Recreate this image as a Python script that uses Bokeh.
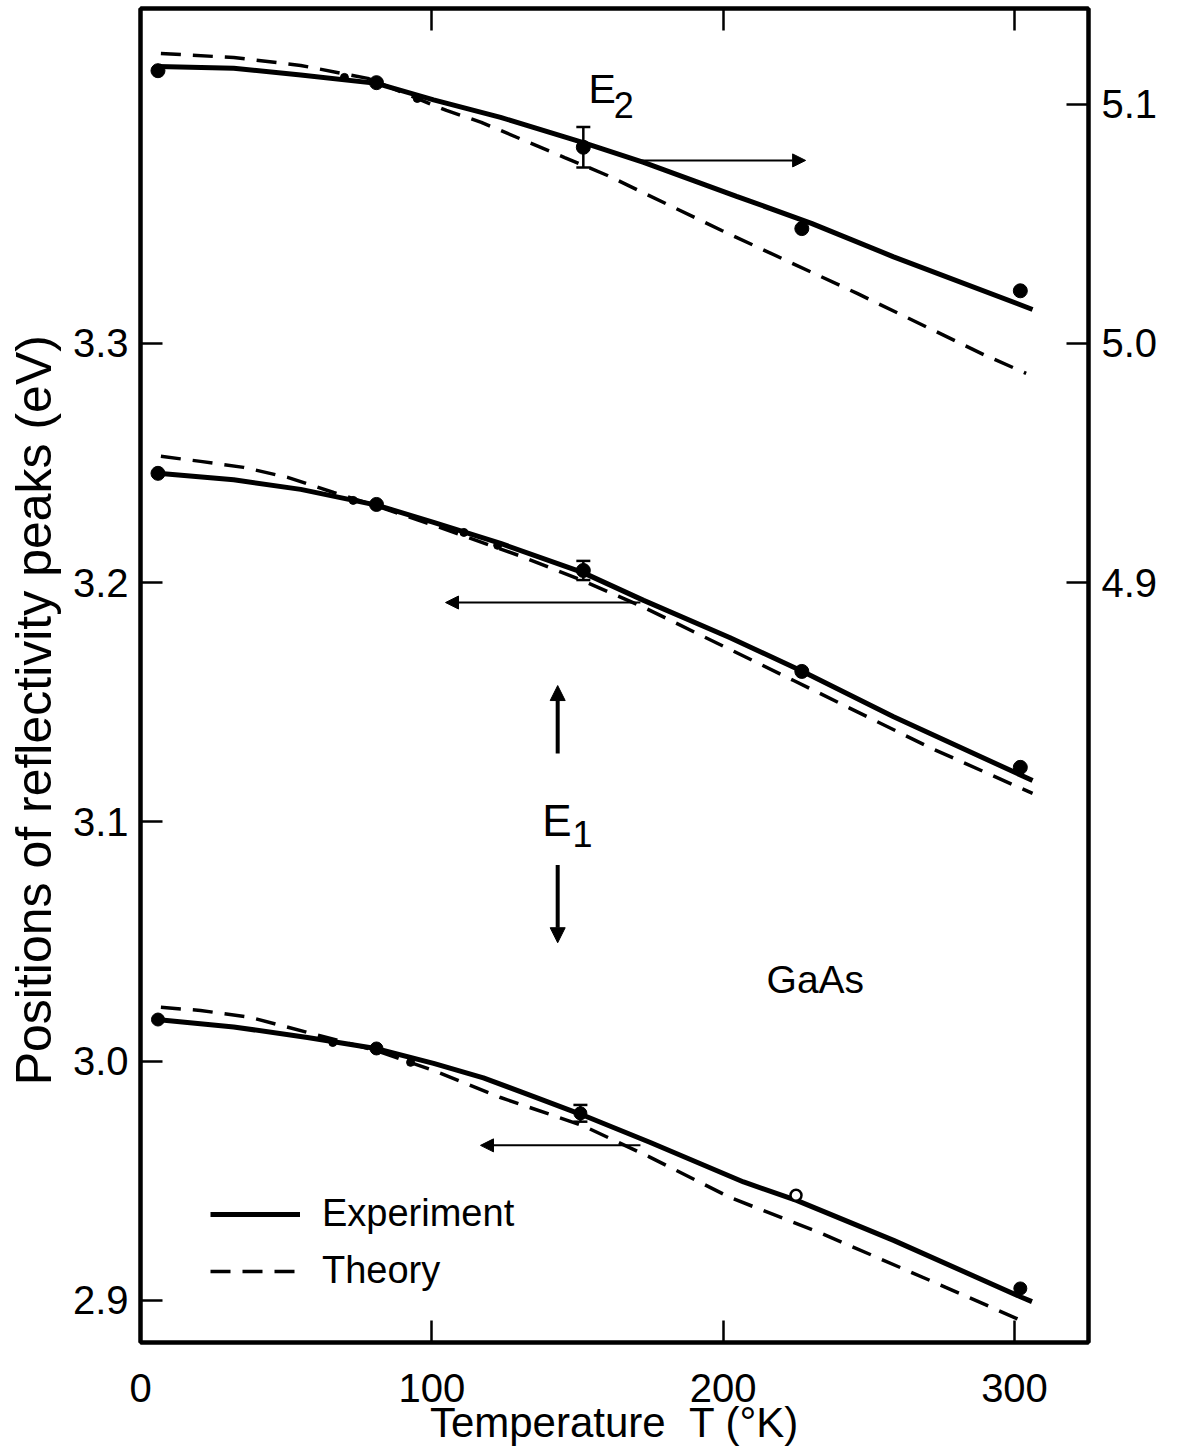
from bokeh.plotting import figure
from bokeh.models import (Range1d, LinearAxis, FixedTicker, PrintfTickFormatter, Arrow,
                          NormalHead, Whisker, TeeHead, ColumnDataSource, Legend, LegendItem)
from bokeh.core.properties import value
from bokeh.embed import file_html
from bokeh.resources import INLINE

FONT = "Liberation Sans"

# ---------------- data ----------------
# E2 peak, read on the right-hand scale (eV)
e2_T = [6, 81, 152, 227, 302]
e2_E = [5.114, 5.109, 5.082, 5.048, 5.022]
e2_err = [0.0, 0.0, 0.0085, 0.0, 0.0]
e2_small_T = [70, 95]
e2_small_E = [5.1112, 5.1024]
e2_exp_T = [6, 32, 55, 81, 100.6, 123.6, 151.7, 172.7, 204.6, 230.3, 258.5, 306.2]
e2_exp_E = [5.1158, 5.1150, 5.1122, 5.1087, 5.1018, 5.0945, 5.0840, 5.0757, 5.0615, 5.0502, 5.0362, 5.0142]
e2_th_T = [7, 32, 55, 78, 105, 117, 145.6, 160.3, 199.5, 246, 290, 304]
e2_th_E = [5.1212, 5.1195, 5.1162, 5.1108, 5.0974, 5.0924, 5.0777, 5.0702, 5.0472, 5.0209, 4.9950, 4.9875]

# E1 peak (upper of the doublet), left-hand scale (eV)
e1a_T = [6, 81, 152, 227, 302]
e1a_E = [3.2457, 3.2327, 3.2051, 3.1629, 3.1228]
e1a_err = [0.0, 0.0, 0.004, 0.0, 0.0]
e1a_small_T = [73, 111, 122.6]
e1a_small_E = [3.2344, 3.2210, 3.2156]
e1a_exp_T = [6, 32, 55, 81.4, 100.6, 123.6, 151.7, 172.7, 202.2, 226.6, 258.5, 306.2]
e1a_exp_E = [3.2457, 3.2430, 3.2390, 3.2323, 3.2252, 3.2164, 3.2043, 3.1926, 3.1771, 3.1633, 3.1440, 3.1173]
e1a_th_T = [7, 20.6, 35.4, 50.5, 66.3, 81.4, 100.6, 129.8, 151.7, 172.7, 224.2, 270.9, 306.2]
e1a_th_E = [3.2528, 3.2507, 3.2482, 3.2440, 3.2377, 3.2319, 3.2240, 3.2114, 3.2009, 3.1897, 3.1591, 3.1311, 3.1119]

# E1 peak (lower of the doublet), left-hand scale (eV)
e1b_T = [6, 81, 151, 302]
e1b_E = [3.0174, 3.0053, 2.9782, 2.9050]
e1b_err = [0.0, 0.0, 0.0035, 0.0]
e1b_open_T = [225]
e1b_open_E = [2.9439]
e1b_small_T = [66, 92.7]
e1b_small_E = [3.0078, 2.9995]
e1b_exp_T = [5.5, 32, 57.3, 80.7, 100.6, 117.7, 135, 150.7, 175, 207, 225.2, 258.5, 302.4, 306]
e1b_exp_E = [3.0174, 3.0143, 3.0099, 3.0053, 2.9991, 2.9930, 2.9852, 2.9780, 2.9660, 2.9495, 2.9418, 2.9251, 2.9013, 2.8995]
e1b_th_T = [7, 20.6, 37.8, 57.3, 80.7, 100.6, 123.6, 151.7, 175, 202.2, 233.8, 270.9, 303.8]
e1b_th_E = [3.0225, 3.0212, 3.0183, 3.0120, 3.0045, 2.9961, 2.9848, 2.9731, 2.9598, 2.9431, 2.9280, 2.9084, 2.8908]

x_ticks = [0, 100, 200, 300]
left_ticks = [2.9, 3.0, 3.1, 3.2, 3.3]
right_ticks = [4.9, 5.0, 5.1]
scale_offset = 1.7  # right-hand scale = left-hand scale + 1.7 eV

# ---------------- figure ----------------
x_lo, x_hi = 0, 325.4
y_lo, y_hi = 2.8824, 3.4400

p = figure(width=1179, height=1449, x_range=Range1d(x_lo, x_hi), y_range=Range1d(y_lo, y_hi),
           output_backend="svg", toolbar_location=None,
           min_border_left=140, min_border_right=91, min_border_top=8, min_border_bottom=107)
p.extra_y_ranges = {"e2": Range1d(y_lo + scale_offset, y_hi + scale_offset)}
p.grid.visible = False
p.background_fill_color = "white"
p.border_fill_color = "white"
p.outline_line_color = "black"
p.outline_line_width = 4


def style_axis(ax, ticks, size="40px"):
    ax.ticker = FixedTicker(ticks=ticks)
    ax.axis_line_color = "black"
    ax.axis_line_width = 4
    ax.major_tick_line_color = "black"
    ax.major_tick_line_width = 2.5
    ax.major_tick_in = 22
    ax.major_tick_out = 0
    ax.minor_tick_line_color = None
    ax.major_label_text_font = FONT
    ax.major_label_text_font_size = size
    ax.major_label_text_color = "black"
    ax.axis_label_text_color = "black"
    ax.axis_label_text_font = FONT
    ax.axis_label_text_font_style = "normal"


xa = p.xaxis[0]
style_axis(xa, x_ticks)
xa.major_label_standoff = 31
xa.axis_label = "Temperature\u00a0\u00a0T (\u00b0K)"
xa.axis_label_text_font_size = "42px"
xa.axis_label_standoff = -6

ya = p.yaxis[0]
style_axis(ya, left_ticks)
ya.formatter = PrintfTickFormatter(format="%.1f")
ya.major_label_standoff = 12
ya.axis_label = "Positions of reflectivity peaks (eV)" + "\u00a0" * 5
ya.axis_label_text_font_size = "50px"
ya.axis_label_standoff = 8

ra = LinearAxis(y_range_name="e2")
style_axis(ra, right_ticks)
ra.formatter = PrintfTickFormatter(format="%.1f")
ra.major_label_standoff = 13
p.add_layout(ra, "right")

ta = LinearAxis()
style_axis(ta, [100, 200, 300], size="1px")
ta.major_label_overrides = {100: "", 200: "", 300: ""}
ta.major_label_standoff = 0
p.add_layout(ta, "above")

# ---------------- curves ----------------
SOLID_W = 5
DASH_W = 3.5
DASH = "20 12"

exp_r = p.line(e2_exp_T, e2_exp_E, y_range_name="e2", line_color="black", line_width=SOLID_W)
th_r = p.line(e2_th_T, e2_th_E, y_range_name="e2", line_color="black", line_width=DASH_W, line_dash=DASH)
p.line(e1a_exp_T, e1a_exp_E, line_color="black", line_width=SOLID_W)
p.line(e1a_th_T, e1a_th_E, line_color="black", line_width=DASH_W, line_dash=DASH)
p.line(e1b_exp_T, e1b_exp_E, line_color="black", line_width=SOLID_W)
p.line(e1b_th_T, e1b_th_E, line_color="black", line_width=DASH_W, line_dash=DASH)

# ---------------- measured points ----------------
p.scatter(e2_T, e2_E, y_range_name="e2", size=14, color="black")
p.scatter(e2_small_T, e2_small_E, y_range_name="e2", size=8, color="black")
p.scatter(e1a_T, e1a_E, size=14, color="black")
p.scatter(e1a_small_T, e1a_small_E, size=8, color="black")
p.scatter(e1b_T, e1b_E, size=13, color="black")
p.scatter(e1b_small_T, e1b_small_E, size=8, color="black")
p.scatter(e1b_open_T, e1b_open_E, size=11, fill_color="white", line_color="black", line_width=2.5)


def add_errors(T, E, err, range_name="default"):
    rows = [(t, e - d, e + d) for t, e, d in zip(T, E, err) if d > 0]
    src = ColumnDataSource(dict(T=[r[0] for r in rows], lo=[r[1] for r in rows], hi=[r[2] for r in rows]))
    w = Whisker(source=src, base="T", lower="lo", upper="hi", dimension="height",
                line_color="black", line_width=2.5, y_range_name=range_name,
                upper_head=TeeHead(size=14, line_width=2.5, line_color="black"),
                lower_head=TeeHead(size=14, line_width=2.5, line_color="black"))
    p.add_layout(w)


add_errors(e2_T, e2_E, e2_err, "e2")
add_errors(e1a_T, e1a_E, e1a_err)
add_errors(e1b_T, e1b_E, e1b_err)

# ---------------- arrows pointing at the scale each curve uses ----------------
def arrow(x0, y0, x1, y1, w=2, head=13):
    p.add_layout(Arrow(x_start=x0, y_start=y0, x_end=x1, y_end=y1, line_width=w, line_color="black",
                       end=NormalHead(size=head, fill_color="black", line_color="black", line_width=1)))


arrow(171.6, 3.3765, 228.3, 3.3765)      # E2 -> right scale
arrow(171.6, 3.1917, 104.7, 3.1917)      # E1 upper -> left scale
arrow(171.6, 2.9648, 116.7, 2.9648)      # E1 lower -> left scale
arrow(143.2, 3.1286, 143.2, 3.1570, w=4, head=15)
arrow(143.2, 3.0820, 143.2, 3.0495, w=4, head=15)

# ---------------- labels ----------------
def label(x, y, txt, size):
    p.text([x], [y], text=[txt], text_font=value(FONT), text_font_size=value(size),
           text_color="black", text_align="left", text_baseline="alphabetic")


label(153.8, 3.4062, "E", "41px")
label(162.4, 3.3995, "2", "36px")
label(137.9, 3.1006, "E", "44px")
label(148.3, 3.0950, "1", "36px")
label(214.9, 3.0343, "GaAs", "39px")

# ---------------- legend ----------------
legend = Legend(items=[LegendItem(label="Experiment", renderers=[exp_r]),
                       LegendItem(label="Theory", renderers=[th_r])],
                location=(70, 50), orientation="vertical",
                glyph_width=90, glyph_height=30, label_standoff=22, spacing=14,
                padding=0, margin=0, label_text_font=FONT, label_text_font_size="38px",
                label_text_color="black", background_fill_alpha=0, border_line_alpha=0)
p.add_layout(legend, "center")

open("out.html", "w").write(file_html(p, INLINE))
